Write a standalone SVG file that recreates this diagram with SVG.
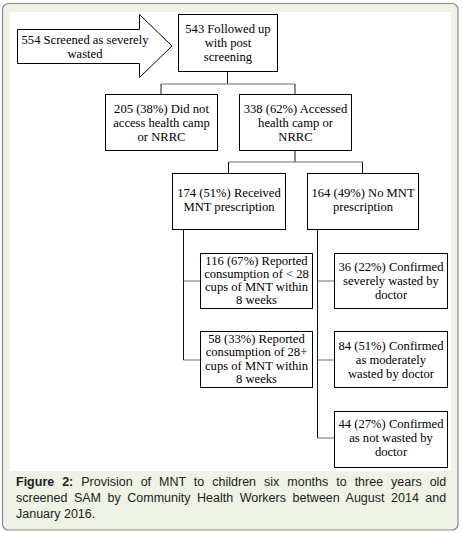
<svg xmlns="http://www.w3.org/2000/svg" width="463" height="533" viewBox="0 0 463 533">
<style>
.box{fill:#fff;stroke:#000;stroke-width:1}
.t{font-family:"Liberation Serif","Times New Roman",serif;font-size:12.6px;fill:#000;text-anchor:middle}
.v{fill:none;stroke:#111;stroke-width:1}
.h{fill:none;stroke:#6e6e6e;stroke-width:1}
.cap{font-family:"Liberation Sans",Arial,sans-serif;font-size:12.5px;fill:#222}
</style>
<rect x="2.5" y="3.5" width="455.5" height="526.5" rx="6" fill="#eef3e5" stroke="#8a8a8a" stroke-width="1.2"/>
<rect x="10" y="12" width="441" height="459" fill="#fff"/>
<g id="connectors">
<path class="v" d="M227.5,71 V84"/>
<path class="h" d="M161,84 H295"/>
<path class="v" d="M161,84 V94 M295,84 V94"/>
<path class="v" d="M295,150 V162"/>
<path class="h" d="M228.5,162 H362.5"/>
<path class="v" d="M228.5,162 V173 M362.5,162 V173"/>
<path class="v" d="M183.5,229 V360"/>
<path class="h" d="M183.5,281 H200 M183.5,360 H200"/>
<path class="v" d="M317.5,229 V438"/>
<path class="h" d="M317.5,281 H334 M317.5,360 H334 M317.5,438 H334"/>
</g>
<g id="n554">
<polygon class="box" points="17.5,29.5 139.5,29.5 139.5,14.5 172,46 139.5,77.5 139.5,63.5 17.5,63.5"/>
<text class="t" x="85" y="44">554 Screened as severely</text>
<text class="t" x="85" y="58">wasted</text>
</g>
<g id="n543">
<rect class="box" x="178.5" y="14.5" width="99" height="57"/>
<text class="t" x="228" y="33">543 Followed up</text>
<text class="t" x="228" y="47">with post</text>
<text class="t" x="228" y="61">screening</text>
</g>
<g id="n205">
<rect class="box" x="105.5" y="94.5" width="112" height="56"/>
<text class="t" x="161.5" y="112.5">205 (38%) Did not</text>
<text class="t" x="161.5" y="126.5">access health camp</text>
<text class="t" x="161.5" y="140.5">or NRRC</text>
</g>
<g id="n338">
<rect class="box" x="239.5" y="94.5" width="112" height="56"/>
<text class="t" x="295.5" y="112.5">338 (62%) Accessed</text>
<text class="t" x="295.5" y="126.5">health camp or</text>
<text class="t" x="295.5" y="140.5">NRRC</text>
</g>
<g id="n174">
<rect class="box" x="172.5" y="173.5" width="113" height="56"/>
<text class="t" x="229" y="197">174 (51%) Received</text>
<text class="t" x="229" y="211">MNT prescription</text>
</g>
<g id="n164">
<rect class="box" x="307.5" y="173.5" width="111" height="56"/>
<text class="t" x="363" y="197">164 (49%) No MNT</text>
<text class="t" x="363" y="211">prescription</text>
</g>
<g id="n116">
<rect class="box" x="200.5" y="253.5" width="112" height="55"/>
<text class="t" x="256.5" y="264.5">116 (67%) Reported</text>
<text class="t" x="256.5" y="277.5">consumption of &lt; 28</text>
<text class="t" x="256.5" y="291">cups of MNT within</text>
<text class="t" x="256.5" y="304">8 weeks</text>
</g>
<g id="n58">
<rect class="box" x="200.5" y="331.5" width="112" height="56"/>
<text class="t" x="256.5" y="343">58 (33%) Reported</text>
<text class="t" x="256.5" y="356">consumption of 28+</text>
<text class="t" x="256.5" y="369.5">cups of MNT within</text>
<text class="t" x="256.5" y="382.5">8 weeks</text>
</g>
<g id="n36">
<rect class="box" x="334.5" y="253.5" width="113" height="55"/>
<text class="t" x="391" y="271">36 (22%) Confirmed</text>
<text class="t" x="391" y="285">severely wasted by</text>
<text class="t" x="391" y="299">doctor</text>
</g>
<g id="n84">
<rect class="box" x="334.5" y="331.5" width="113" height="56"/>
<text class="t" x="391" y="349.5">84 (51%) Confirmed</text>
<text class="t" x="391" y="363.5">as moderately</text>
<text class="t" x="391" y="377.5">wasted by doctor</text>
</g>
<g id="n44">
<rect class="box" x="334.5" y="411.5" width="113" height="56"/>
<text class="t" x="391" y="428">44 (27%) Confirmed</text>
<text class="t" x="391" y="442">as not wasted by</text>
<text class="t" x="391" y="456">doctor</text>
</g>
<g id="caption">
<text class="cap" x="16" y="486" style="word-spacing:4.5px"><tspan font-weight="bold">Figure 2:</tspan> Provision of MNT to children six months to three years old</text>
<text class="cap" x="16" y="502" style="word-spacing:3.05px">screened SAM by Community Health Workers between August 2014 and</text>
<text class="cap" x="16" y="518">January 2016.</text>
</g>
</svg>
